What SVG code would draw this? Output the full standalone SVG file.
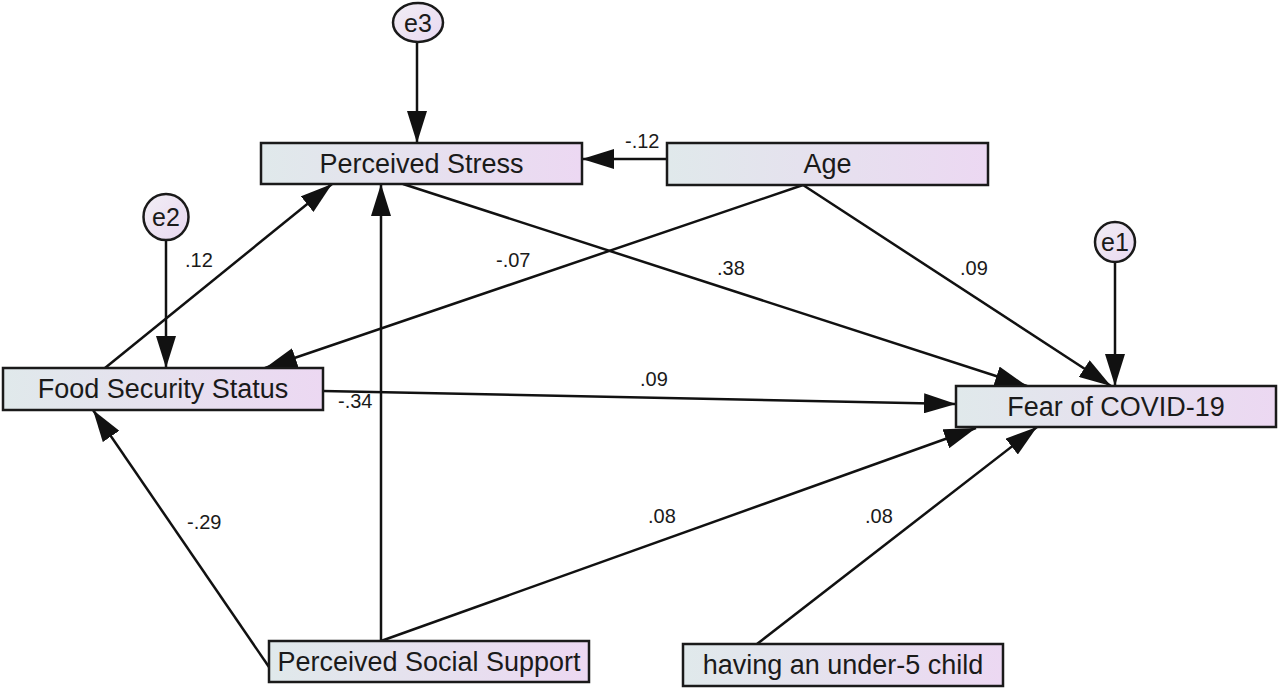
<svg xmlns="http://www.w3.org/2000/svg" width="1280" height="691" viewBox="0 0 1280 691">
<defs>
<linearGradient id="g" x1="0" y1="0" x2="1" y2="0">
<stop offset="0" stop-color="#e0e9eb"/>
<stop offset="1" stop-color="#ecd8f2"/>
</linearGradient>
<linearGradient id="ge" x1="0" y1="0" x2="1" y2="1">
<stop offset="0" stop-color="#f2eef5"/>
<stop offset="1" stop-color="#e8d8f0"/>
</linearGradient>
<marker id="arr" markerUnits="userSpaceOnUse" markerWidth="32" markerHeight="20" refX="32" refY="10" orient="auto" viewBox="0 0 32 20">
<path d="M0,0 L32,10 L0,20 z" fill="#111"/>
</marker>
<style>
.box{fill:url(#g);stroke:#1a1a1a;stroke-width:2.5}
.err{fill:url(#ge);stroke:#1a1a1a;stroke-width:2.5}
.nt{font-family:"Liberation Sans",Arial,sans-serif;font-size:27px;fill:#1a1a1a;text-anchor:middle}
.et{font-family:"Liberation Sans",Arial,sans-serif;font-size:25px;fill:#1a1a1a;text-anchor:middle}
.lb{font-family:"Liberation Sans",Arial,sans-serif;font-size:20px;fill:#1a1a1a}
.c{stroke:#111;stroke-width:2.5;fill:none;marker-end:url(#arr)}
</style>
</defs>
<rect width="1280" height="691" fill="#ffffff"/>
<g id="connectors">
<line class="c" x1="417" y1="42" x2="417" y2="143"/>
<line class="c" x1="667" y1="159" x2="582" y2="159"/>
<line class="c" x1="166" y1="240" x2="166" y2="368"/>
<line class="c" x1="105" y1="368" x2="332" y2="184"/>
<line class="c" x1="803" y1="185" x2="265" y2="368"/>
<line class="c" x1="403" y1="184" x2="1027" y2="386"/>
<line class="c" x1="803" y1="185" x2="1111" y2="386"/>
<line class="c" x1="1115" y1="262" x2="1115" y2="386"/>
<line class="c" x1="323" y1="391" x2="956" y2="404"/>
<line class="c" x1="381" y1="641" x2="381" y2="184"/>
<line class="c" x1="381" y1="641" x2="976" y2="428"/>
<line class="c" x1="269" y1="667" x2="93" y2="410"/>
<line class="c" x1="757" y1="644" x2="1037" y2="427"/>
</g>
<g id="labels">
<text class="lb" x="625" y="148">-.12</text>
<text class="lb" x="185" y="267">.12</text>
<text class="lb" x="496" y="267">-.07</text>
<text class="lb" x="717" y="275">.38</text>
<text class="lb" x="960" y="275">.09</text>
<text class="lb" x="640" y="386">.09</text>
<text class="lb" x="338" y="408">-.34</text>
<text class="lb" x="187" y="529">-.29</text>
<text class="lb" x="648" y="523">.08</text>
<text class="lb" x="865" y="523">.08</text>
</g>
<g id="e3"><ellipse class="err" cx="418" cy="22.5" rx="25" ry="19.5"/><text class="et" x="418" y="31.5">e3</text></g>
<g id="e2"><ellipse class="err" cx="166" cy="217" rx="22.5" ry="23"/><text class="et" x="166" y="226">e2</text></g>
<g id="e1"><ellipse class="err" cx="1115" cy="242" rx="20" ry="20"/><text class="et" x="1115" y="251">e1</text></g>
<g id="perceived-stress"><rect class="box" x="261" y="143" width="321" height="41"/><text class="nt" x="421.5" y="173">Perceived Stress</text></g>
<g id="age"><rect class="box" x="667" y="143" width="321" height="42"/><text class="nt" x="827.5" y="173">Age</text></g>
<g id="food-security"><rect class="box" x="3" y="368" width="320" height="42"/><text class="nt" x="163" y="398">Food Security Status</text></g>
<g id="fear-covid"><rect class="box" x="956" y="386" width="320" height="41"/><text class="nt" x="1116" y="416">Fear of COVID-19</text></g>
<g id="social-support"><rect class="box" x="269" y="641" width="320" height="41"/><text class="nt" x="429" y="671">Perceived Social Support</text></g>
<g id="under5"><rect class="box" x="683" y="644" width="320" height="42"/><text class="nt" x="843" y="674">having an under-5 child</text></g>
</svg>
